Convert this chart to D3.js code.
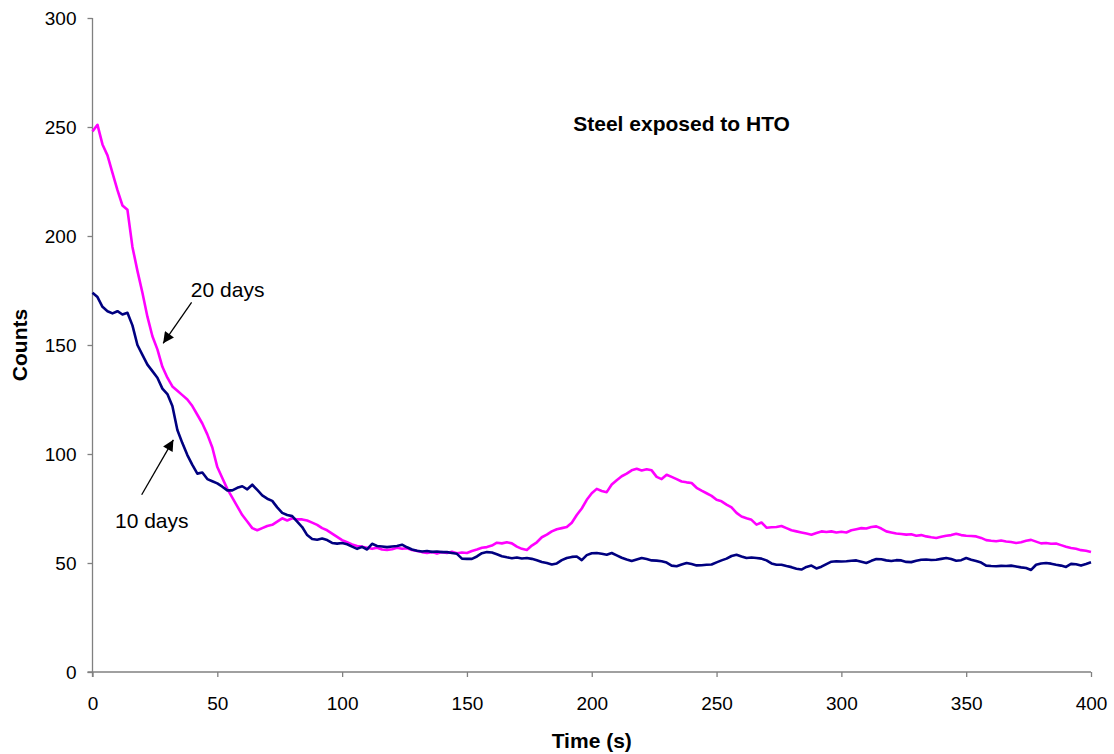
<!DOCTYPE html>
<html>
<head>
<meta charset="utf-8">
<script src="https://cdn.jsdelivr.net/npm/d3@7"></script>
<style>
  body { margin: 0; background: #fff; }
  text { font-family: "Liberation Sans", Arial, sans-serif; }
</style>
</head>
<body>
<div id="chart"></div>
<script>
// time step of the readings (s) and the two series
var timeStep = 2;

var days20 = [248, 251, 242, 237, 229, 221, 214, 212, 195, 184, 174, 163, 154, 148, 140, 135, 131, 129, 127, 125,
  122, 118, 114, 109, 103, 94, 89, 84, 80, 76, 72, 69, 66, 65, 66, 67, 67.5, 69, 70.5, 69.5,
  70.5, 70, 70, 69.5, 68.5, 67.5, 66, 65, 63.5, 62, 60.5, 59.5, 58.5, 57.8, 57.5, 57, 56.5, 57, 56.2, 56,
  56.3, 57, 56.5, 56.8, 56, 55.5, 55, 54.6, 55, 54.3, 55, 54.6, 55.2, 54.5, 54.8, 54.6, 55.5, 56.2, 57, 57.3,
  58, 59.3, 59, 59.5, 59, 57.5, 56.5, 56, 58, 59.5, 61.8, 63, 64.5, 65.5, 66, 66.5, 68.5, 72, 75, 79,
  82, 84, 83, 82.5, 86, 88, 89.8, 91, 92.5, 93.2, 92.4, 93, 92.5, 89.5, 88.5, 90.5, 89.5, 88.5, 87.4, 87,
  86.7, 84.5, 83.2, 82, 80.8, 79, 78.3, 76.8, 75.5, 73, 71.3, 70.5, 69.8, 67.6, 68.6, 66.2, 66.4, 66.5, 67, 66,
  65, 64.5, 64, 63.5, 63, 63.8, 64.5, 64.2, 64.5, 64, 64.3, 64, 65, 65.5, 66, 65.8, 66.5, 66.8, 65.8, 64.5,
  64, 63.5, 63.3, 63, 63.2, 62.5, 62.8, 62.2, 61.8, 61.5, 62, 62.5, 62.8, 63.4, 62.8, 62.5, 62.4, 62.2, 61.5, 60.5,
  60.2, 60, 60.3, 59.9, 59.6, 59.2, 59.5, 60.2, 60.6, 59.8, 59, 59.2, 58.8, 58.9, 58.2, 57.5, 56.9, 56.5, 55.9, 55.6,
  55];

var days10 = [174, 172, 167.5, 165.5, 164.5, 165.5, 164, 164.8, 159, 150, 145.5, 141, 138, 135, 130, 127.5, 122, 111, 105, 99.5,
  95, 91, 91.5, 88.5, 87.5, 86.5, 85, 83.3, 83.3, 84.5, 85.2, 83.8, 85.9, 83.5, 81, 79.5, 78.5, 75.5, 73, 72,
  71.5, 69, 66.5, 62.8, 61, 60.7, 61.2, 60.5, 59.2, 58.9, 59.2, 58.6, 57.5, 56.5, 57.4, 56.2, 58.8, 57.8, 57.6, 57.3,
  57.6, 57.8, 58.4, 57.2, 56.2, 55.6, 55.3, 55.5, 55.1, 55.3, 55, 55, 54.6, 54.2, 52, 51.9, 51.9, 53, 54.5, 55,
  54.8, 54, 53.1, 52.6, 52.2, 52.5, 52.1, 52.3, 51.9, 51.3, 50.5, 50, 49.3, 49.8, 51.3, 52.3, 52.8, 53, 51.3, 53.6,
  54.5, 54.6, 54.2, 53.8, 54.6, 53.5, 52.4, 51.6, 50.9, 51.6, 52.3, 51.8, 51.2, 51.1, 50.8, 50.2, 48.8, 48.5, 49.3, 50,
  49.5, 48.9, 49, 49.2, 49.3, 50.3, 51.2, 52, 53.2, 53.8, 53, 52.3, 52.5, 52.3, 52, 51.2, 49.8, 49.2, 49.2, 48.6,
  48.1, 47.4, 47, 48.2, 48.8, 47.5, 48.3, 49.5, 50.6, 50.8, 50.7, 50.8, 51, 51.2, 50.6, 50, 51, 51.8, 51.7, 51.2,
  50.9, 51.3, 51.2, 50.5, 50.4, 51, 51.5, 51.6, 51.4, 51.5, 51.9, 52.3, 51.8, 51, 51.3, 52.3, 51.5, 50.9, 50.2, 48.8,
  48.6, 48.5, 48.7, 48.6, 48.8, 48.4, 48, 47.7, 46.8, 49.2, 49.8, 50, 49.7, 49.2, 48.8, 48.2, 49.6, 49.4, 48.8, 49.5,
  50.3];

// axis ticks
var xTicks = [0, 50, 100, 150, 200, 250, 300, 350, 400];
var yTicks = [0, 50, 100, 150, 200, 250, 300];

// SVG dimensions
var svgWidth = 1114;
var svgHeight = 754;

var margin = {
  top: 18,
  right: 23,
  bottom: 82,
  left: 92.5
};

var width = svgWidth - margin.left - margin.right;
var height = svgHeight - margin.top - margin.bottom;

var svg = d3.select("#chart")
  .append("svg")
  .attr("width", svgWidth)
  .attr("height", svgHeight);

var chartGroup = svg.append("g")
  .attr("transform", `translate(${margin.left}, ${margin.top})`);

var xScale = d3.scaleLinear()
  .domain([0, 400])
  .range([0, width]);

var yScale = d3.scaleLinear()
  .domain([0, 300])
  .range([height, 0]);

// axes
var bottomAxis = d3.axisBottom(xScale).tickValues(xTicks).tickSize(5).tickSizeOuter(0).tickPadding(20);
var leftAxis = d3.axisLeft(yScale).tickValues(yTicks).tickSize(5).tickSizeOuter(0).tickPadding(11);

var xAxisG = chartGroup.append("g")
  .attr("transform", `translate(0, ${height})`)
  .call(bottomAxis);

var yAxisG = chartGroup.append("g")
  .call(leftAxis);

[xAxisG, yAxisG].forEach(function(g) {
  g.selectAll("path, line").attr("stroke", "#808080").attr("stroke-width", 1.3);
  g.selectAll("text")
    .attr("fill", "#000")
    .style("font-size", "19px")
    .style("font-family", "'Liberation Sans', Arial, sans-serif");
});
// the left axis line also runs under the bottom one
yAxisG.select("path").attr("d", `M0,0V${height + 5}`);
xAxisG.select("path").attr("d", `M-5,0H${width}`);

// lines
var line = d3.line()
  .x((d, i) => xScale(i * timeStep))
  .y(d => yScale(d));

chartGroup.append("path")
  .datum(days20)
  .attr("fill", "none")
  .attr("stroke", "#ff00ff")
  .attr("stroke-width", 2.6)
  .attr("stroke-linejoin", "round")
  .attr("d", line);

chartGroup.append("path")
  .datum(days10)
  .attr("fill", "none")
  .attr("stroke", "#000080")
  .attr("stroke-width", 2.6)
  .attr("stroke-linejoin", "round")
  .attr("d", line);

// arrow marker
svg.append("defs").append("marker")
  .attr("id", "arrow")
  .attr("viewBox", "0 0 10 10")
  .attr("refX", 10)
  .attr("refY", 5)
  .attr("markerWidth", 14)
  .attr("markerHeight", 11)
  .attr("markerUnits", "userSpaceOnUse")
  .attr("orient", "auto")
  .append("path")
  .attr("d", "M0,0L10,5L0,10Z")
  .attr("fill", "#000");

// annotations: label text and arrows (data coordinates)
var notes = [
  {label: "20 days", tx: 39.4, ty: 172, x1: 39.7, y1: 169.5, x2: 28.3, y2: 150.8},
  {label: "10 days", tx: 9, ty: 66.2, x1: 19.7, y1: 81.3, x2: 32.4, y2: 106.5}
];

notes.forEach(function(n) {
  chartGroup.append("text")
    .attr("x", xScale(n.tx))
    .attr("y", yScale(n.ty))
    .style("font-size", "21px")
    .text(n.label);

  chartGroup.append("line")
    .attr("x1", xScale(n.x1))
    .attr("y1", yScale(n.y1))
    .attr("x2", xScale(n.x2))
    .attr("y2", yScale(n.y2))
    .attr("stroke", "#000")
    .attr("stroke-width", 1.3)
    .attr("marker-end", "url(#arrow)");
});

// chart title inside the plot
chartGroup.append("text")
  .attr("x", xScale(236))
  .attr("y", yScale(248))
  .attr("text-anchor", "middle")
  .style("font-size", "21px")
  .style("font-weight", "bold")
  .text("Steel exposed to HTO");

// axis labels
chartGroup.append("text")
  .attr("transform", "rotate(-90)")
  .attr("x", 0 - yScale(150))
  .attr("y", 0 - margin.left + 27)
  .attr("text-anchor", "middle")
  .style("font-size", "21px")
  .style("font-weight", "bold")
  .text("Counts");

chartGroup.append("text")
  .attr("x", width / 2)
  .attr("y", height + 76)
  .attr("text-anchor", "middle")
  .style("font-size", "21px")
  .style("font-weight", "bold")
  .text("Time (s)");
</script>
</body>
</html>
